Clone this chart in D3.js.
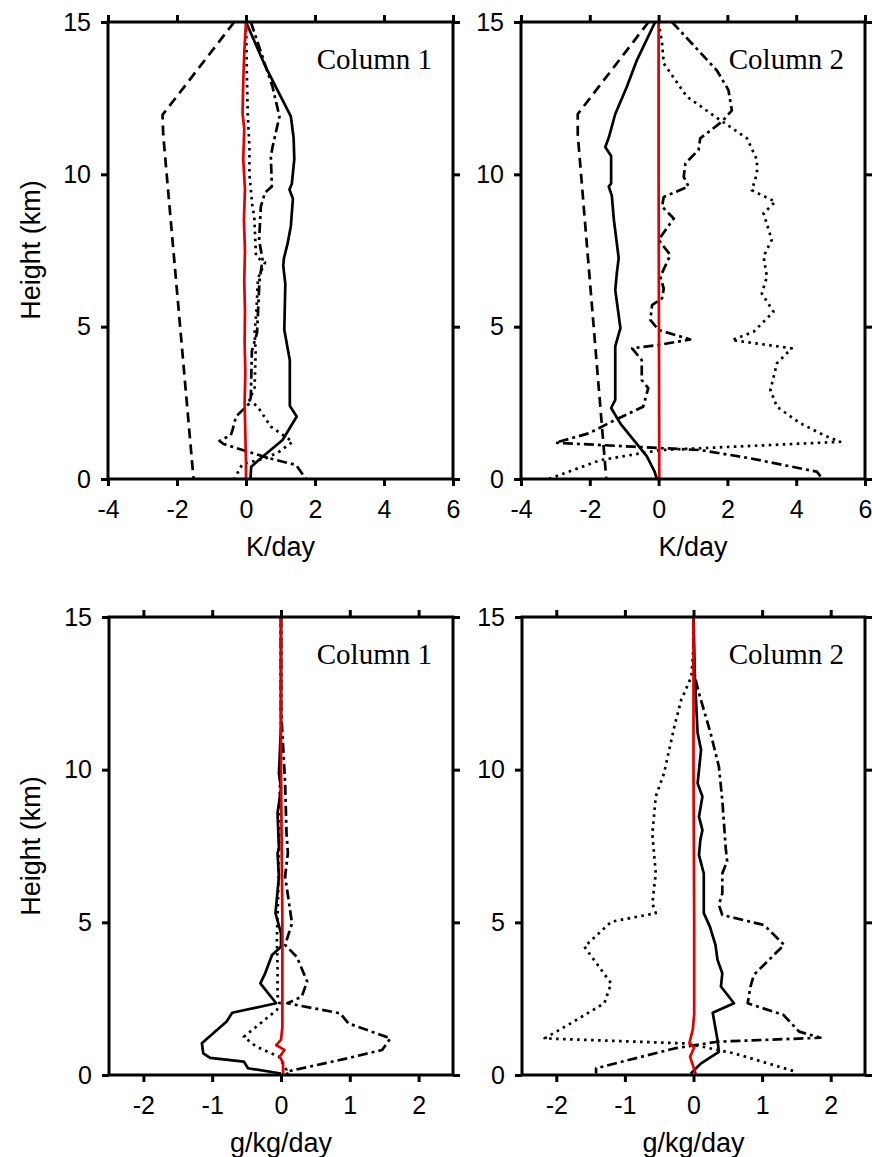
<!DOCTYPE html>
<html>
<head>
<meta charset="utf-8">
<script src="https://cdn.jsdelivr.net/npm/d3@7"></script>
<style>
body { margin: 0; background: #fff; }
</style>
</head>
<body>
<svg id="chart"></svg>
<script>
var width = 872;
var height = 1157;

// each point is [value, height in km]
// heating, column 1 (K/day)
var kSolid1 = [[0,15],[0.58,13.5],[1.3,11.9],[1.38,11.2],[1.4,10.5],[1.33,9.7],[1.26,9.5],[1.36,9.2],[1.3,8.3],[1.2,7.7],[1.1,7.25],[1.08,7.0],[1.14,6.4],[1.11,4.9],[1.27,3.9],[1.27,2.4],[1.47,2.05],[1.06,1.28],[0.48,0.73],[0.15,0.4],[0.13,0]];
var kDashed1 = [[-0.34,15],[-2.42,11.95],[-2.4,11.3],[-1.52,0]];
var kDashDot1 = [[0.14,15],[0.77,12.87],[0.97,11.9],[0.77,10.9],[0.72,10.58],[0.75,9.6],[0.55,9.4],[0.43,8.94],[0.38,7.84],[0.48,7.2],[0.39,6.5],[0.32,4.8],[0.17,4.2],[0.14,2.7],[0.1,2.48],[-0.29,2.05],[-0.39,1.61],[-0.44,1.44],[-0.77,1.25],[-0.65,1.15],[-0.1,0.95],[0.68,0.68],[1.45,0.46],[1.74,0]];
var kDotted1 = [[0,15],[0.03,13],[0.05,12],[0.1,10.9],[0.1,10],[0.18,9],[0.24,8.6],[0.29,7.3],[0.55,7.1],[0.35,6.6],[0.3,5.5],[0.25,4.8],[0.28,4.2],[0.25,3.0],[0.1,2.59],[0.34,2.37],[0.72,1.72],[1.35,1.22],[0.97,0.9],[0.58,0.68],[-0.1,0.5],[-0.34,0]];
var kRed1 = [[0,15],[-0.05,14],[-0.08,13],[-0.1,12],[-0.05,11.5],[-0.08,10.5],[-0.03,9.5],[-0.06,8.5],[-0.03,7.5],[-0.05,6.5],[-0.03,5.5],[-0.04,4.5],[-0.02,3.5],[-0.04,2.5],[-0.02,1.5],[0,0.5],[0,0]];

// heating, column 2 (K/day)
var kSolid2 = [[-0.1,15],[-0.63,13.75],[-0.92,12.88],[-1.26,11.98],[-1.45,11.2],[-1.55,10.9],[-1.38,10.6],[-1.38,9.7],[-1.45,9.6],[-1.36,9.3],[-1.3,8.5],[-1.16,7.25],[-1.21,6.8],[-1.26,6.2],[-1.11,4.95],[-1.26,4.35],[-1.26,2.6],[-1.38,2.33],[-1.1,1.8],[-0.68,1.22],[-0.34,0.74],[-0.12,0.25],[-0.05,0]];
var kDashed2 = [[-0.29,15],[-2.35,11.98],[-2.35,11.3],[-1.52,0]];
var kDashDot2 = [[0.39,15],[1.7,13.4],[2.03,12.77],[2.13,12.1],[1.84,11.73],[1.21,11.18],[1.16,10.8],[0.78,10.36],[0.73,9.92],[0.87,9.6],[0.15,9.26],[0.1,8.94],[0.44,8.55],[0.0,7.85],[0.34,7.35],[0.05,6.64],[0.15,6.25],[0.1,5.93],[-0.19,5.71],[-0.24,5.22],[0.0,4.89],[0.92,4.58],[0.0,4.4],[-0.77,4.29],[-0.49,3.9],[-0.49,3.25],[-0.3,2.98],[-0.45,2.37],[-1.26,1.94],[-2.03,1.5],[-3.0,1.19],[-0.73,1.06],[1.21,0.95],[2.66,0.68],[4.6,0.24],[4.77,0]];
var kDotted2 = [[0,15],[0.1,14.3],[0.15,13.64],[0.82,12.55],[1.79,11.78],[2.57,11.18],[2.86,10.47],[2.86,10.03],[2.71,9.48],[3.39,9.1],[3.05,8.72],[3.29,7.85],[3.05,7.3],[3.15,6.64],[3.0,6.09],[3.34,5.49],[2.76,4.83],[2.13,4.56],[3.87,4.29],[3.44,3.8],[3.25,2.92],[3.44,2.37],[4.12,1.83],[4.8,1.44],[5.28,1.22],[0.05,0.95],[-1.69,0.62],[-3.2,0]];
var kRed2 = [[0,15],[0,10],[0.01,5],[0.02,0]];

// moistening, column 1 (g/kg/day)
var gSolid1 = [[0,15],[0,11.4],[-0.03,9.88],[0,9.4],[-0.05,8.57],[-0.03,7.43],[-0.05,7.26],[-0.03,6.5],[-0.08,5.3],[0,4.64],[0,4.2],[-0.13,3.93],[-0.23,3.33],[-0.3,3.0],[-0.07,2.35],[-0.71,2.04],[-0.79,1.75],[-1.15,1.04],[-1.13,0.71],[-1.03,0.56],[-0.54,0.44],[-0.48,0.22],[0,0.05]];
var gDashDot1 = [[0,15],[0,12],[0.02,11.2],[0.06,9.56],[0.08,7.93],[0.1,7.27],[0.06,6.5],[0.16,4.97],[0.06,4.26],[0.23,3.87],[0.38,3.06],[0.3,2.56],[0.09,2.35],[0.86,2.02],[0.98,1.69],[1.59,1.2],[1.47,0.82],[0.97,0.55],[0.08,0.11],[0.1,0]];
var gDotted1 = [[0,15],[0,11],[-0.02,9],[-0.03,7.3],[-0.04,6],[-0.06,4.42],[-0.05,3.5],[-0.05,2.6],[-0.02,2.35],[-0.06,2.13],[-0.54,1.25],[-0.36,0.93],[-0.03,0.6],[0.08,0.16],[0.05,0]];
var gRed1 = [[0,15],[0,10],[0.02,5],[0.02,1.58],[0,1.15],[-0.07,0.98],[0.05,0.82],[-0.02,0.6],[0.03,0.4],[0.03,0]];

// moistening, column 2 (g/kg/day)
var gSolid2 = [[0,15],[0.02,13.05],[0.06,11.2],[0.11,10.65],[0.06,9.55],[0.13,9.12],[0.08,8.46],[0.13,8.02],[0.1,7.7],[0.08,7.2],[0.15,6.6],[0.15,5.3],[0.24,4.85],[0.32,4.26],[0.35,3.77],[0.42,3.33],[0.4,2.9],[0.59,2.35],[0.28,2.04],[0.35,1.15],[0.37,0.76],[0.11,0.38],[-0.04,0.05]];
var gDashDot2 = [[0,15],[0,13.5],[0.02,13.05],[0.08,12.5],[0.25,11.19],[0.37,10.1],[0.42,9.0],[0.47,7.43],[0.49,7.0],[0.42,6.6],[0.42,5.95],[0.37,5.57],[0.42,5.24],[1.03,4.91],[1.32,4.26],[0.88,3.28],[0.83,2.89],[0.79,2.35],[1.31,1.97],[1.54,1.42],[1.85,1.22],[0.35,1.09],[-0.28,0.87],[-1.42,0.22],[-1.42,0.05]];
var gDotted2 = [[0,15],[0,14.03],[-0.03,13.05],[-0.18,12.28],[-0.28,11.4],[-0.43,9.88],[-0.55,9.12],[-0.6,7.9],[-0.55,6.6],[-0.6,5.62],[-0.55,5.3],[-1.2,5.02],[-1.59,4.2],[-1.2,3.0],[-1.3,2.35],[-1.83,1.64],[-2.17,1.2],[-0.09,1.03],[0.59,0.71],[1.49,0.11]];
var gRed2 = [[0,15],[0,10],[0.01,5],[0.01,2],[-0.01,1.5],[-0.06,1.04],[0.01,0.9],[-0.05,0.6],[0.03,0.05],[0.03,0]];

var kDomain = [-4, 6];
var kTicks = [-4, -2, 0, 2, 4, 6];
var gDomain = [-2.5, 2.5];
var gTicks = [-2, -1, 0, 1, 2];
var hTicks = [0, 5, 10, 15];

var sansFont = "'Liberation Sans', Arial, sans-serif";
var serifFont = "'Liberation Serif', 'Times New Roman', serif";
var red = "#e00000";

var styles = {
	solid: null,
	dashed: "10,6",
	dotted: "2.6,4.4",
	dashdot: "10,4,3,4"
};

// plain hyphen minus, as in the original figure
var plain = function (d) { return String(d); };

var svg = d3.select("#chart")
.attr("width", width)
.attr("height", height);

function drawPanel (left, top, w, h, xDomain, xTicks, label, xTitle, lines) {
	var g = svg.append("g")
	.attr("transform", "translate(" + left + "," + top + ")");

	var x = d3.scaleLinear().domain(xDomain).range([0, w]);
	var y = d3.scaleLinear().domain([0, 15]).range([h, 0]);

	var line = d3.line()
	.x(function (d) { return x(d[0]); })
	.y(function (d) { return y(d[1]); });

	lines.forEach(function (s) {
		g.append("path")
		.datum(s.data)
		.attr("d", line)
		.attr("fill", "none")
		.attr("stroke", s.color)
		.attr("stroke-width", 2.7)
		.attr("stroke-linejoin", "round")
		.attr("stroke-dasharray", styles[s.style]);
	});

	// axes on all four sides, ticks outward
	var bottom = g.append("g")
	.attr("transform", "translate(0," + h + ")")
	.call(d3.axisBottom(x).tickValues(xTicks).tickSize(7).tickPadding(14).tickSizeOuter(0).tickFormat(plain));
	var topAx = g.append("g")
	.call(d3.axisTop(x).tickValues(xTicks).tickSize(7).tickFormat("").tickSizeOuter(0));
	var leftAx = g.append("g")
	.call(d3.axisLeft(y).tickValues(hTicks).tickSize(7).tickPadding(10).tickSizeOuter(0).tickFormat(plain));
	var rightAx = g.append("g")
	.attr("transform", "translate(" + w + ",0)")
	.call(d3.axisRight(y).tickValues(hTicks).tickSize(7).tickFormat("").tickSizeOuter(0));

	[bottom, topAx, leftAx, rightAx].forEach(function (a) {
		a.select(".domain").remove();
		a.selectAll(".tick line")
		.attr("stroke", "#000")
		.attr("stroke-width", 3);
		a.selectAll(".tick text")
		.attr("fill", "#000")
		.style("font-family", sansFont)
		.style("font-size", "25px");
	});

	g.append("rect")
	.attr("width", w)
	.attr("height", h)
	.attr("fill", "none")
	.attr("stroke", "#000")
	.attr("stroke-width", 3);

	g.append("text")
	.attr("x", w - 21)
	.attr("y", 47)
	.attr("text-anchor", "end")
	.style("font-family", serifFont)
	.style("font-size", "29px")
	.text(label);

	g.append("text")
	.attr("x", w / 2)
	.attr("y", h + 77)
	.attr("text-anchor", "middle")
	.style("font-family", sansFont)
	.style("font-size", "27px")
	.text(xTitle);
}

function yTitle (cy) {
	svg.append("text")
	.attr("transform", "translate(40," + cy + ") rotate(-90)")
	.attr("text-anchor", "middle")
	.style("font-family", sansFont)
	.style("font-size", "27px")
	.text("Height (km)");
}

function set (solid, dashed, dashdot, dotted, redLine) {
	var out = [];
	if (dashed) out.push({data: dashed, style: "dashed", color: "#000"});
	out.push({data: dotted, style: "dotted", color: "#000"});
	out.push({data: dashdot, style: "dashdot", color: "#000"});
	out.push({data: solid, style: "solid", color: "#000"});
	out.push({data: redLine, style: "solid", color: red});
	return out;
}

drawPanel(108, 22, 345, 457, kDomain, kTicks, "Column 1", "K/day",
	set(kSolid1, kDashed1, kDashDot1, kDotted1, kRed1));
drawPanel(521, 22, 344, 457, kDomain, kTicks, "Column 2", "K/day",
	set(kSolid2, kDashed2, kDashDot2, kDotted2, kRed2));
drawPanel(109, 617, 344, 458, gDomain, gTicks, "Column 1", "g/kg/day",
	set(gSolid1, null, gDashDot1, gDotted1, gRed1));
drawPanel(522, 617, 343, 458, gDomain, gTicks, "Column 2", "g/kg/day",
	set(gSolid2, null, gDashDot2, gDotted2, gRed2));

yTitle(250);
yTitle(846);
</script>
</body>
</html>
